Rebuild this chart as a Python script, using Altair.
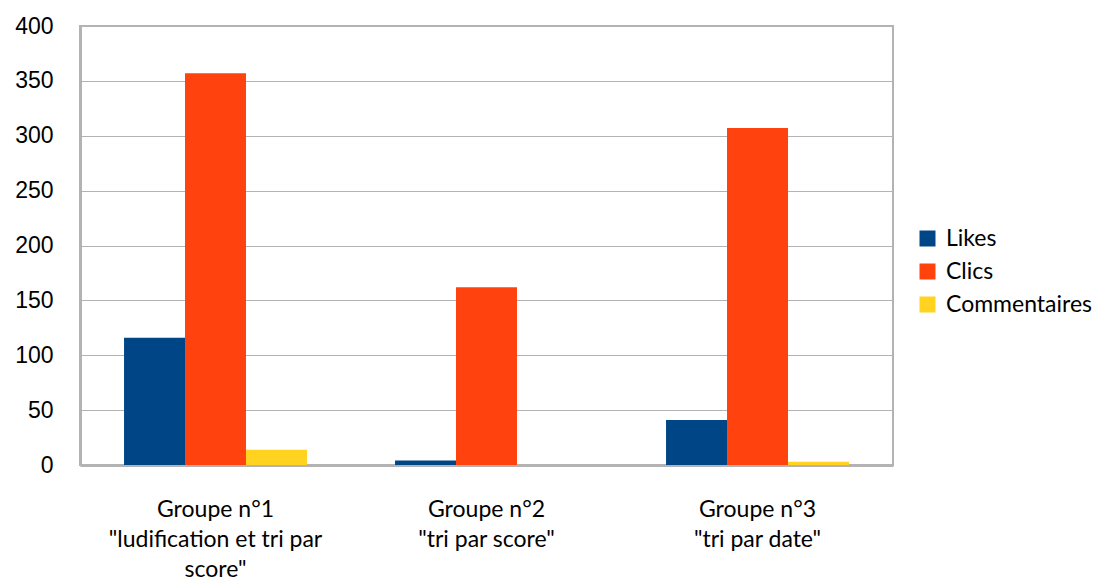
import altair as alt
import pandas as pd

groups = ["Groupe n°1|\"ludification et tri par|score\"",
          "Groupe n°2|\"tri par score\"",
          "Groupe n°3|\"tri par date\""]
series = ["Likes", "Clics", "Commentaires"]
likes = [116, 4, 41]
clics = [357, 162, 307]
commentaires = [14, 0, 3]
colors = ["#004586", "#ff420e", "#ffd320"]
y_ticks = [0, 50, 100, 150, 200, 250, 300, 350, 400]

rows = []
for i, g in enumerate(groups):
    for s, vals in zip(series, [likes, clics, commentaires]):
        rows.append({"groupe": g, "serie": s, "valeur": vals[i]})
df = pd.DataFrame(rows)

chart = alt.Chart(df).mark_bar().encode(
    x=alt.X("groupe:N", sort=groups, title=None,
            scale=alt.Scale(paddingInner=0.325, paddingOuter=0.1625),
            axis=alt.Axis(labelExpr="split(datum.label, '|')", labelAngle=0,
                          labelFont="Lato", labelFontSize=23, labelColor="#000000",
                          labelLineHeight=30, labelPadding=33, ticks=False, labelLimit=0,
                          domainColor="#b3b3b3", domainWidth=3, labelBaseline="top")),
    xOffset=alt.XOffset("serie:N", sort=series, scale=alt.Scale(paddingInner=0, paddingOuter=0)),
    y=alt.Y("valeur:Q", title=None,
            scale=alt.Scale(domain=[0, 400], nice=False),
            axis=alt.Axis(values=y_ticks, labelFont="Liberation Sans", labelFontSize=23,
                          labelColor="#000000", ticks=False, labelPadding=27,
                          gridColor="#b3b3b3", gridWidth=1, domainColor="#b3b3b3",
                          domainWidth=3)),
    color=alt.Color("serie:N", sort=series, title=None,
                    scale=alt.Scale(domain=series, range=colors),
                    legend=alt.Legend(orient="none", legendX=836, legendY=201,
                                      symbolType="square", symbolSize=256,
                                      symbolStrokeWidth=0, labelFont="Lato",
                                      labelFontSize=23, labelColor="#000000",
                                      rowPadding=9, padding=0, labelOffset=7,
                                      labelLimit=0)),
).properties(
    width=813, height=439,
    autosize=alt.AutoSizeParams(type="none"),
    padding={"left": 72, "top": 18, "right": 206, "bottom": 115},
).configure_view(stroke="#b3b3b3", strokeWidth=2).configure_axisY(grid=True).configure_axisX(grid=False)

chart.save("out.html", embed_options={"renderer": "svg", "actions": False})
